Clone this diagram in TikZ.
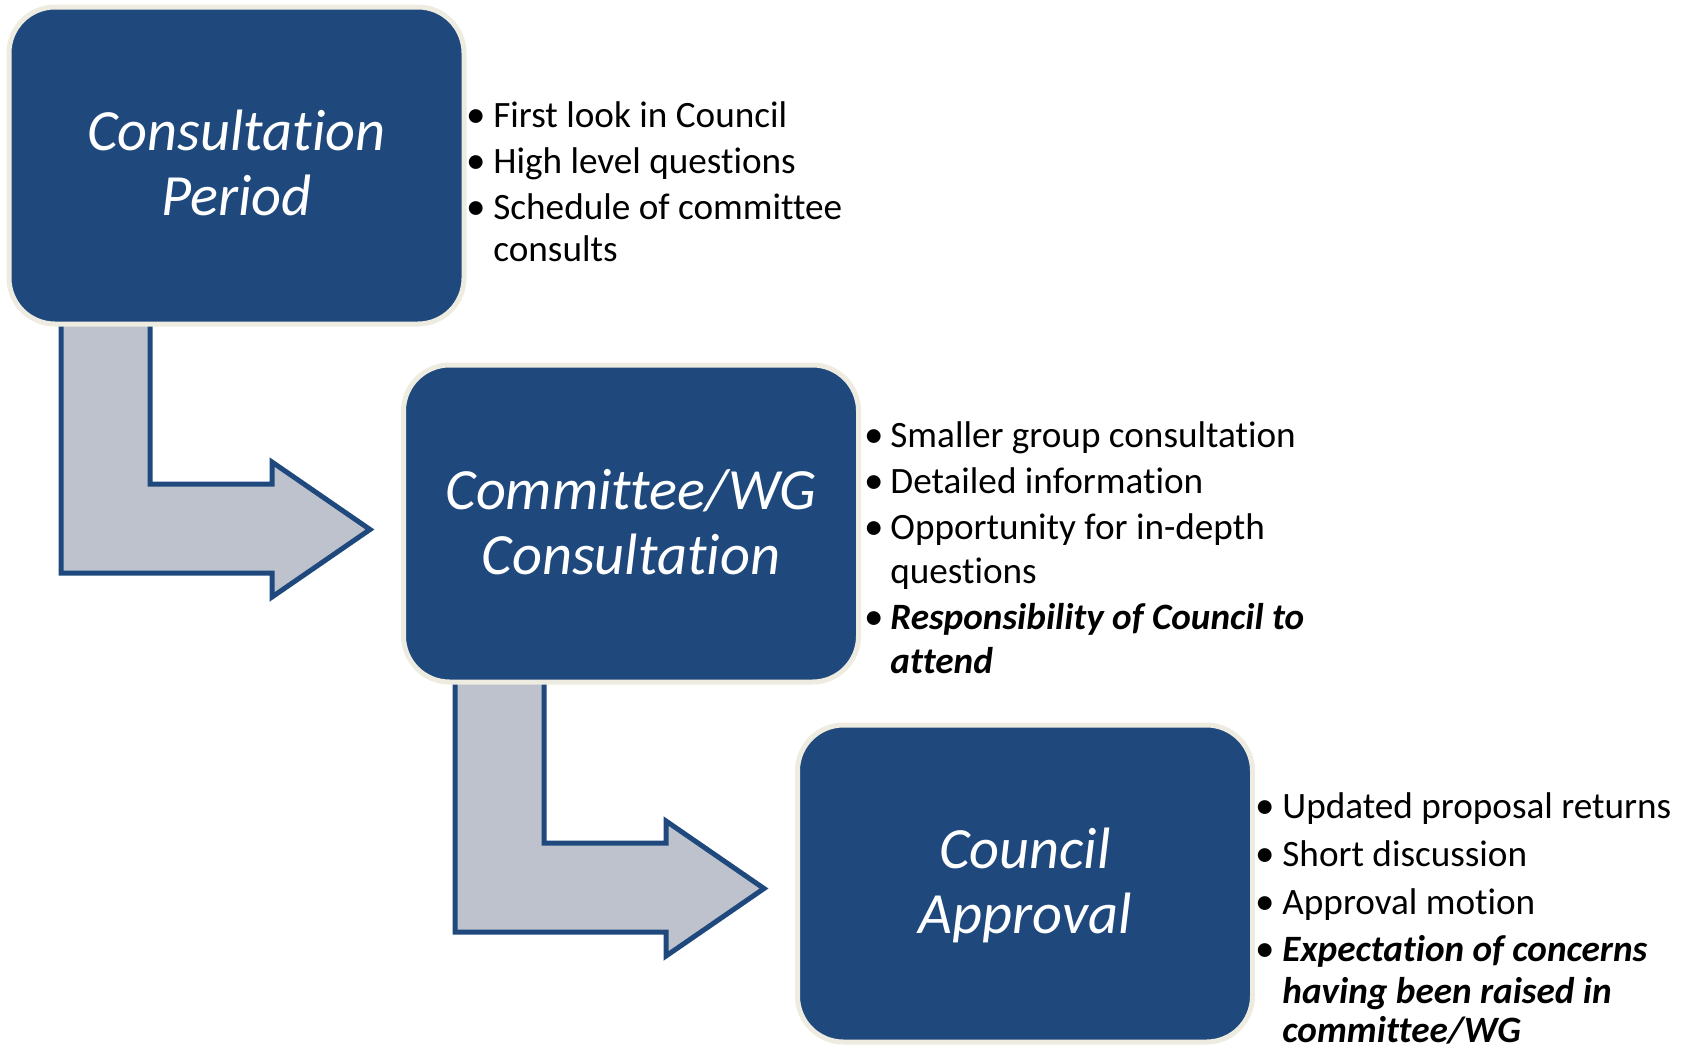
\documentclass[tikz,border=0pt]{standalone}
\usepackage{fontspec}
\setmainfont[Ligatures=NoCommon]{Carlito}
\definecolor{boxblue}{HTML}{1F497D}
\definecolor{cream}{HTML}{EEECE1}
\definecolor{arrowgray}{HTML}{BDC2CD}
\begin{document}
\begin{tikzpicture}[x=0.5pt,y=-0.5pt,
  stage/.style={fill=boxblue, draw=cream, line width=2.5pt, rounded corners=23pt,
    minimum width=227.5pt, minimum height=158.5pt, inner sep=0pt},
  title/.style={text=white, font=\fontsize{29.2pt}{34pt}\selectfont\itshape, anchor=base, inner sep=0pt},
  item/.style={text=black, font=\fontsize{18.6pt}{22pt}\selectfont, anchor=base west, inner sep=0pt},
  bolditem/.style={item, font=\fontsize{18.6pt}{22pt}\selectfont\bfseries\itshape},
  bul/.style={text=black, font=\fontsize{19.5pt}{22pt}\selectfont, anchor=base, inner sep=0pt},
  bentarrow/.style={fill=arrowgray, draw=boxblue, line width=2.5pt, line join=miter}]
\useasboundingbox (0,0) rectangle (1688,1046);

% bent arrows (behind boxes)
\draw[bentarrow] (61,300) -- (61,573) -- (272,573) -- (272,597) -- (370,529.5) -- (272,462) -- (272,484) -- (150,484) -- (150,300) -- cycle;
\begin{scope}[shift={(394,359)}]
\draw[bentarrow] (61,300) -- (61,573) -- (272,573) -- (272,597) -- (370,529.5) -- (272,462) -- (272,484) -- (150,484) -- (150,300) -- cycle;
\end{scope}

% stage boxes
\node[stage] (s1) at (236.5,165.5) {};
\node[stage] (s2) at (631,523.5) {};
\node[stage] (s3) at (1025,883.5) {};

\node[title] (t1a) at (236.5,150) {Consultation};
\node[title] (t1b) at (236.5,215) {Period};
\node[title] (t2a) at (631,509) {Committee/WG};
\node[title] (t2b) at (631,574) {Consultation};
\node[title] (t3a) at (1025,868) {Council};
\node[title] (t3b) at (1025,933) {Approval};

% list 1
\node[bul] (b1a) at (476,127.5) {•};
\node[item] (i1a) at (493,127) {First look in Council};
\node[bul] (b1b) at (476,173.5) {•};
\node[item] (i1b) at (493,173) {High level questions};
\node[bul] (b1c) at (476,219.5) {•};
\node[item] (i1c) at (493,219) {Schedule of committee};
\node[item] (i1d) at (493,261) {consults};

% list 2
\node[bul] (b2a) at (874,447.5) {•};
\node[item] (i2a) at (890,447) {Smaller group consultation};
\node[bul] (b2b) at (874,493.5) {•};
\node[item] (i2b) at (890,493) {Detailed information};
\node[bul] (b2c) at (874,539.5) {•};
\node[item] (i2c) at (890,539) {Opportunity for in-depth};
\node[item] (i2d) at (890,583) {questions};
\node[bul] (b2e) at (874,629.5) {•};
\node[bolditem] (i2e) at (890,629) {Responsibility of Council to};
\node[bolditem] (i2f) at (890,673) {attend};

% list 3
\node[bul] (b3a) at (1265,818.5) {•};
\node[item] (i3a) at (1282,818) {Updated proposal returns};
\node[bul] (b3b) at (1265,866.5) {•};
\node[item] (i3b) at (1282,866) {Short discussion};
\node[bul] (b3c) at (1265,914.5) {•};
\node[item] (i3c) at (1282,914) {Approval motion};
\node[bul] (b3d) at (1265,961.5) {•};
\node[bolditem] (i3d) at (1282,961) {Expectation of concerns};
\node[bolditem] (i3e) at (1282,1003) {having been raised in};
\node[bolditem] (i3f) at (1282,1042) {committee/WG};
\end{tikzpicture}
\end{document}
